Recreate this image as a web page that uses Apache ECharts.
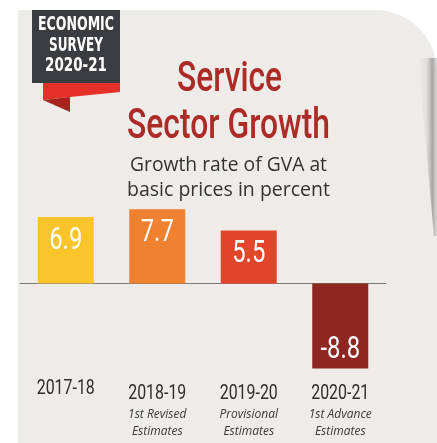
<!DOCTYPE html>
<html>
<head>
<meta charset="utf-8">
<script src="https://cdn.jsdelivr.net/npm/echarts@6/dist/echarts.min.js"></script>
<style>
  html, body { margin: 0; padding: 0; background: #ffffff; }
  #chart { width: 437px; height: 443px; }
</style>
</head>
<body>
<div id="chart"></div>
<script>
// Service sector GVA growth, percent
const years = ['2017-18', '2018-19', '2019-20', '2020-21'];
const notes = [[], ['1st Revised', 'Estimates'], ['Provisional', 'Estimates'], ['1st Advance', 'Estimates']];
const growth = [6.9, 7.7, 5.5, -8.8];
const barColors = ['#fbc42a', '#ef8131', '#e3452b', '#8e2621'];

const COND = 'Roboto, "Liberation Sans", sans-serif';
const HEAVY = '"DejaVu Sans", "Liberation Sans", sans-serif';
const SANS = '"Open Sans", "Noto Sans", sans-serif';

// horizontal squeeze so a regular face reads like a condensed display face
const measureCtx = document.createElement('canvas').getContext('2d');
function squeeze(text, font, width) {
  measureCtx.font = font;
  return width / measureCtx.measureText(text).width;
}

const VALUE_FONT = '31px ' + COND;
const YEAR_FONT = '21px ' + COND;
const NOTE_FONT = 'italic 12px ' + SANS;
const BADGE_FONT = 'bold 20px ' + HEAVY;
const HEAD_FONT = '500 42px ' + COND;
const SUB_FONT = '19.5px ' + SANS;
const valueScale = squeeze('6.9', VALUE_FONT, 33);
const yearScale = squeeze('2017-18', YEAR_FONT, 58);

const chart = echarts.init(document.getElementById('chart'), null, { renderer: 'canvas' });

function textEl(text, x, y, font, fill, sx, extra) {
  return Object.assign({
    type: 'text', silent: true, x: x, y: y, scaleX: sx,
    style: { text: text, font: font, fill: fill, align: 'center', verticalAlign: 'middle' }
  }, extra || {});
}

const option = {
  backgroundColor: '#ffffff',
  animation: false,
  grid: { left: 20, right: 51, top: 187, bottom: 63, containLabel: false },
  xAxis: {
    type: 'category',
    data: years,
    axisLine: { onZero: true, lineStyle: { color: '#7a7a7a', width: 1 } },
    axisTick: { show: false },
    axisLabel: { show: false }
  },
  yAxis: {
    type: 'value',
    min: -10,
    max: 10,
    show: false,
    splitLine: { show: false }
  },
  series: [
    {
      type: 'bar',
      barWidth: 56,
      data: growth.map((v, i) => ({ value: v, itemStyle: { color: barColors[i] } })),
      z: 5
    },
    {
      // value figures set inside each bar
      type: 'custom',
      clip: false,
      z: 6,
      data: growth.map((v, i) => [i, v]),
      encode: { x: 0, y: 1 },
      renderItem: (params, api) => {
        const i = api.value(0);
        const v = api.value(1);
        const end = api.coord([i, v]);
        const y = v >= 0 ? end[1] + 24 : end[1] - 18;
        return textEl(String(v), end[0], y, VALUE_FONT, '#ffffff', valueScale);
      }
    },
    {
      // category names and estimate notes under the plot
      type: 'custom',
      clip: false,
      z: 6,
      data: years.map((y, i) => [i, -10]),
      encode: { x: 0, y: 1 },
      renderItem: (params, api) => {
        const i = api.value(0);
        const p = api.coord([i, api.value(1)]);
        const note = notes[i];
        const children = [
          textEl(years[i], p[0], p[1] + (note.length ? 14 : 9), YEAR_FONT, '#2e2e2e', yearScale)
        ];
        note.forEach((line, k) => {
          children.push(textEl(line, p[0], p[1] + 35 + k * 16.5, NOTE_FONT, '#3a3a3a', 1));
        });
        return { type: 'group', children: children };
      }
    }
  ],
  graphic: [
    // paper panel with a rounded upper-right corner
    {
      type: 'rect', z: -10, silent: true,
      shape: { x: 18, y: 10, width: 419, height: 440, r: [0, 62, 0, 0] },
      style: { fill: '#eeebe8' }
    },
    // curl shadow on the right edge
    {
      type: 'polygon', z: -9, silent: true,
      shape: { points: [[418, 58], [437, 58], [437, 236], [434, 236]] },
      style: {
        fill: {
          type: 'linear', x: 0, y: 0, x2: 1, y2: 0,
          colorStops: [
            { offset: 0, color: 'rgba(160,160,160,0)' },
            { offset: 0.45, color: 'rgba(150,150,150,0.15)' },
            { offset: 0.75, color: 'rgba(110,110,110,0.55)' },
            { offset: 1, color: 'rgba(180,180,180,0.4)' }
          ]
        }
      }
    },
    // badge
    {
      type: 'rect', z: 10, silent: true,
      shape: { x: 32, y: 10, width: 88, height: 73 },
      style: { fill: '#3b3b42' }
    },
    {
      type: 'polygon', z: 10, silent: true,
      shape: { points: [[43, 83], [120, 83], [120, 92], [70, 97], [43, 100]] },
      style: { fill: '#e5302a' }
    },
    {
      type: 'polygon', z: 10, silent: true,
      shape: { points: [[43, 100], [70, 97], [70, 112]] },
      style: { fill: '#a8221f' }
    },
    textEl('ECONOMIC', 76, 24.5, BADGE_FONT, '#ffffff', squeeze('ECONOMIC', BADGE_FONT, 76), { z: 11 }),
    textEl('SURVEY', 76, 46, BADGE_FONT, '#ffffff', squeeze('SURVEY', BADGE_FONT, 54), { z: 11 }),
    textEl('2020-21', 76, 66, BADGE_FONT, '#ffffff', squeeze('2020-21', BADGE_FONT, 62), { z: 11 }),
    // heading
    textEl('Service', 229.5, 80, HEAD_FONT, '#ad2b26', squeeze('Service', HEAD_FONT, 105), { z: 11 }),
    textEl('Sector Growth', 228.5, 127, HEAD_FONT, '#ad2b26', squeeze('Sector Growth', HEAD_FONT, 203), { z: 11 }),
    textEl('Growth rate of GVA at', 228.5, 165, SUB_FONT, '#333333', squeeze('Growth rate of GVA at', SUB_FONT, 197), { z: 11 }),
    textEl('basic prices in percent', 228.5, 190, SUB_FONT, '#333333', squeeze('basic prices in percent', SUB_FONT, 203), { z: 11 })
  ]
};

chart.setOption(option);
</script>
</body>
</html>
